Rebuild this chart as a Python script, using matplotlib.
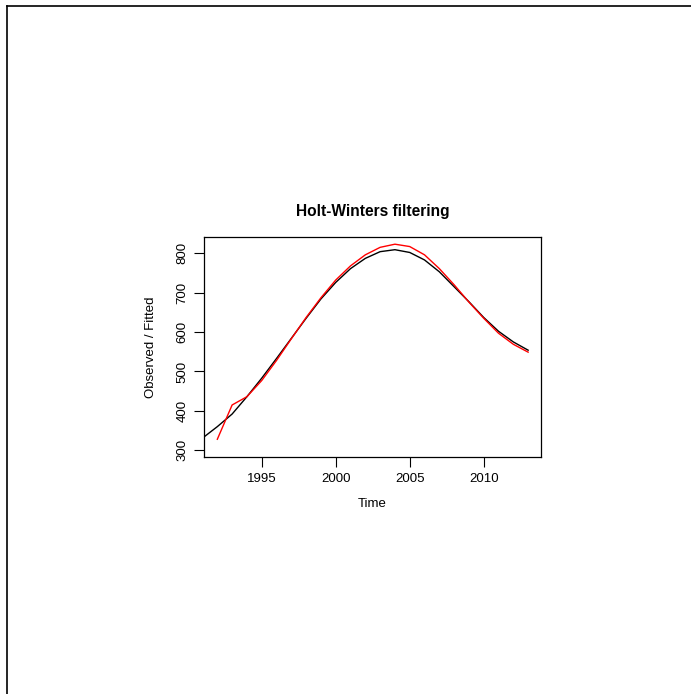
# Holt-Winters filtering, R-style plot
import matplotlib.pyplot as plt

plt.rcParams['font.family'] = ['Liberation Sans', 'DejaVu Sans']

# observed series (black) and fitted values (red)
obs_years = list(range(1990, 2014))
observed = [302, 331, 360, 392, 436, 483, 533, 584, 635, 684, 726, 761, 787,
            804, 809, 802, 783, 753, 715, 677, 637, 602, 575, 554]

fit_years = list(range(1992, 2014))
fitted = [328, 415, 436, 477, 528, 583, 637, 687, 732, 768, 796, 815, 823,
          817, 796, 761, 720, 676, 635, 597, 569, 549]

x_ticks = [1995, 2000, 2005, 2010]
y_ticks = [300, 400, 500, 600, 700, 800]

fig = plt.figure(figsize=(6.91, 6.94), dpi=100)

# the thin frame at the left and top of the image
fig.add_artist(plt.Line2D([7 / 691, 7 / 691], [0, 1 - 6 / 694], color='black', lw=1.2))
fig.add_artist(plt.Line2D([7 / 691, 1], [1 - 6 / 694, 1 - 6 / 694], color='black', lw=1.2))

ax = fig.add_axes([204.3 / 691, 1 - 457.3 / 694, (540.7 - 204.3) / 691, (457.3 - 236.7) / 694])
ax.plot(obs_years, observed, color='black', lw=1.0)
ax.plot(fit_years, fitted, color='red', lw=1.0)

ax.set_xlim(1991.12, 2013.85)
ax.set_ylim(282.2, 842)
ax.set_xticks(x_ticks)
ax.set_yticks(y_ticks)
ax.tick_params(direction='out', length=7, width=0.8, labelsize=9.5, pad=4.5)
plt.setp(ax.get_yticklabels(), rotation=90, va='center')
for s in ax.spines.values():
    s.set_linewidth(0.9)

ax.set_title('Holt-Winters filtering', fontsize=11.2, fontweight='bold', pad=15)
ax.set_xlabel('Time', fontsize=9.5, labelpad=9)
ax.set_ylabel('Observed / Fitted', fontsize=9.5, labelpad=14)

fig.savefig('out.png', dpi=100)
